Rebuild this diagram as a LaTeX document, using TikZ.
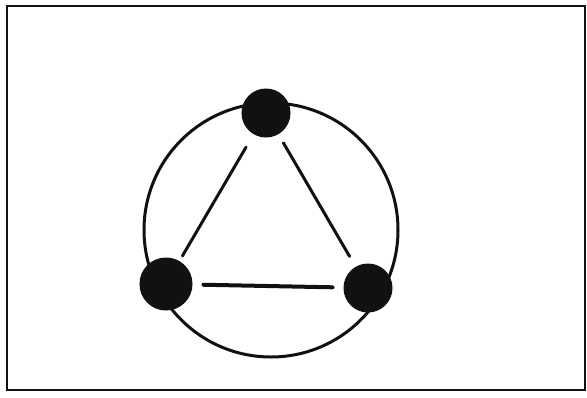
\documentclass[tikz,border=0pt]{standalone}
\usepackage{tikz}
\usetikzlibrary{positioning, calc}
\definecolor{Ink}{HTML}{111111}
\definecolor{Paper}{HTML}{FFFFFF}
\tikzset{
    framebox/.style={draw=Ink, line width=2.5pt},
    ring/.style={draw=Ink, line width=3pt},
    blob/.style={circle, fill=Ink, draw=Ink, line width=1pt, minimum size=48pt, inner sep=0pt},
    bond/.style={draw=Ink, line width=3pt, line cap=round},
}

\begin{document}
\begin{tikzpicture}[x=1pt, y=-1pt]
    \useasboundingbox (0,0) rectangle (587,397);
    \fill[Paper] (0,0) rectangle (587,397);

    % Cornice
    \draw[framebox] (7,6) rectangle (585,390);

    % Anello esterno
    \draw[ring] (271,230) circle (127pt);

    % Vertici
    \node[blob] (top) at (266,113) {};
    \node[blob, minimum size=52pt] (left) at (166,284) {};
    \node[blob] (right) at (368,288) {};

    % Lati del triangolo
    \draw[bond, shorten <=15pt, shorten >=6pt] (top) -- (left);
    \draw[bond, shorten <=10pt, shorten >=12pt] (top) -- (right);
    \draw[bond, line width=4pt, shorten <=11pt, shorten >=11pt] (left) -- (right);
\end{tikzpicture}
\end{document}
